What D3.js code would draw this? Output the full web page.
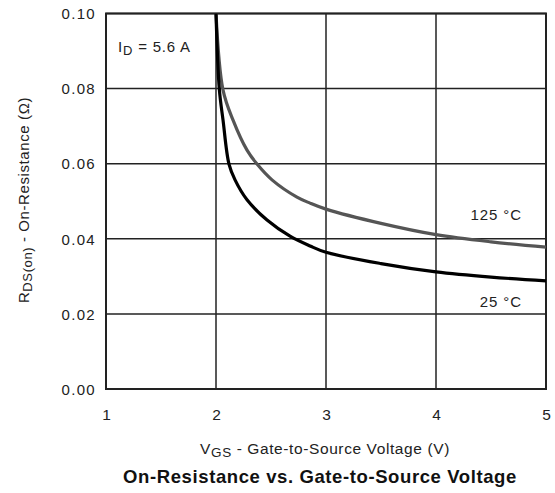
<!DOCTYPE html>
<html><head><meta charset="utf-8">
<script src="https://cdn.jsdelivr.net/npm/d3@7"></script>
<style>body{margin:0;background:#fff;} text{font-family:"Liberation Sans",Arial,sans-serif;}</style>
</head><body>
<svg id="c" width="555" height="493"></svg>
<script>
const xTicks = [1, 2, 3, 4, 5];
const yTicks = [0.00, 0.02, 0.04, 0.06, 0.08, 0.10];
const vgs25 = [2.0, 2.03, 2.064, 2.118, 2.173, 2.282, 2.464, 2.673, 2.855, 3.0, 3.5, 4.0, 4.5, 5.0];
const rds25 = [0.100, 0.0799, 0.0716, 0.0599, 0.0557, 0.0504, 0.0450, 0.0407, 0.0381, 0.0364, 0.0334, 0.0312, 0.0298, 0.0288];
const vgs125 = [2.0, 2.064, 2.155, 2.282, 2.373, 2.509, 2.736, 2.855, 3.0, 3.5, 4.0, 4.5, 5.0];
const rds125 = [0.100, 0.0796, 0.0716, 0.0636, 0.0599, 0.0557, 0.0511, 0.0495, 0.0479, 0.0441, 0.0411, 0.0392, 0.0378];
const seriesLabels = ["125 °C", "25 °C"];

const svg = d3.select("#c");
const L = 106, R = 546, T = 13.5, B = 389;
const x = d3.scaleLinear().domain([1, 5]).range([L, R]);
const y = d3.scaleLinear().domain([0, 0.10]).range([B, T]);

// grid
svg.append("g").selectAll("line").data(xTicks).join("line")
  .attr("x1", d => x(d)).attr("x2", d => x(d)).attr("y1", T).attr("y2", B)
  .attr("stroke", "#222").attr("stroke-width", 1.5);
svg.append("g").selectAll("line").data(yTicks).join("line")
  .attr("x1", L).attr("x2", R).attr("y1", d => y(d)).attr("y2", d => y(d))
  .attr("stroke", "#222").attr("stroke-width", 1.5);
svg.append("rect").attr("x", L).attr("y", T).attr("width", R - L).attr("height", B - T)
  .attr("fill", "none").attr("stroke", "#222").attr("stroke-width", 2);

// axes labels via d3 axes
const yAxis = svg.append("g").attr("transform", `translate(${L - 10},0)`)
  .call(d3.axisLeft(y).tickValues(yTicks).tickFormat(d3.format(".2f")).tickSize(0));
yAxis.select(".domain").remove();
yAxis.selectAll("text").attr("font-size", 15).attr("letter-spacing", 1.3).attr("fill", "#222").attr("dy", "0.35em").attr("x", 0);

const xAxis = svg.append("g").attr("transform", `translate(0,${B})`)
  .call(d3.axisBottom(x).tickValues(xTicks).tickFormat(d3.format("d")).tickSize(0));
xAxis.select(".domain").remove();
xAxis.selectAll("text").attr("font-size", 15.5).attr("fill", "#222").attr("y", 31).attr("dy", null);

// curves
const line = d3.line().x(d => x(d[0])).y(d => y(d[1])).curve(d3.curveCatmullRom.alpha(0.5));
svg.append("path").datum(vgs125.map((v, i) => [v, rds125[i]])).attr("d", line)
  .attr("fill", "none").attr("stroke", "#555").attr("stroke-width", 3.2);
svg.append("path").datum(vgs25.map((v, i) => [v, rds25[i]])).attr("d", line)
  .attr("fill", "none").attr("stroke", "#000").attr("stroke-width", 3.2);

// annotations
const t1 = svg.append("text").attr("x", 118).attr("y", 52).attr("font-size", 15).attr("letter-spacing", 0.8).attr("fill", "#222");
t1.append("tspan").text("I");
t1.append("tspan").text("D").attr("font-size", 13).attr("dy", 3);
t1.append("tspan").text(" = 5.6 A").attr("dy", -3);

svg.append("text").attr("x", 522).attr("y", 220).attr("text-anchor", "end").attr("font-size", 15).attr("letter-spacing", 0.9).attr("fill", "#222").text(seriesLabels[0]);
svg.append("text").attr("x", 522).attr("y", 307).attr("text-anchor", "end").attr("font-size", 15).attr("letter-spacing", 0.9).attr("fill", "#222").text(seriesLabels[1]);

// x title
const xt = svg.append("text").attr("x", 325).attr("y", 454).attr("text-anchor", "middle").attr("font-size", 15.5).attr("letter-spacing", 0.6).attr("fill", "#222");
xt.append("tspan").text("V");
xt.append("tspan").text("GS").attr("font-size", 13.5).attr("dy", 3);
xt.append("tspan").text(" - Gate-to-Source Voltage (V)").attr("dy", -3);

// y title
const yt = svg.append("text").attr("transform", "translate(29,200) rotate(-90)").attr("text-anchor", "middle").attr("font-size", 15).attr("letter-spacing", 0.6).attr("fill", "#222");
yt.append("tspan").text("R");
yt.append("tspan").text("DS(on)").attr("font-size", 13).attr("dy", 3);
yt.append("tspan").text(" - On-Resistance (Ω)").attr("dy", -3);

svg.append("text").attr("x", 320).attr("y", 483).attr("text-anchor", "middle").attr("font-size", 18.5).attr("letter-spacing", 0.6).attr("font-weight", "bold").attr("fill", "#111")
  .text("On-Resistance vs. Gate-to-Source Voltage");
</script>
</body></html>
